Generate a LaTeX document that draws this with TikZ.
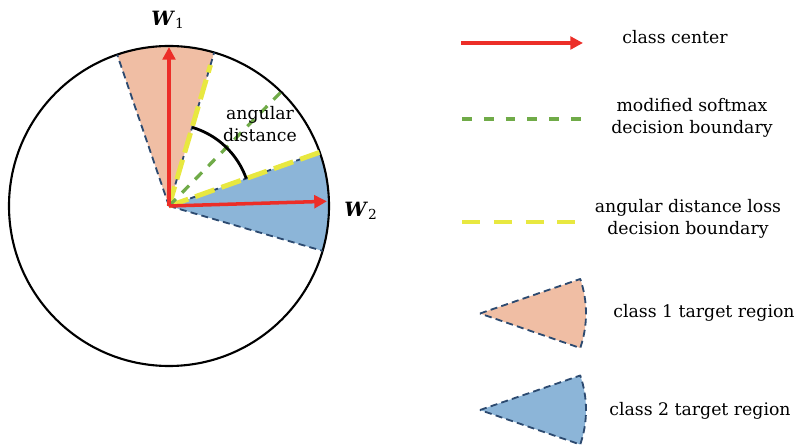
\documentclass[tikz,border=0pt]{standalone}
\usepackage{fontspec}
\setmainfont{DejaVu Serif}
\usetikzlibrary{arrows.meta,calc}
\definecolor{regorange}{RGB}{240,190,164}
\definecolor{regblue}{RGB}{140,181,216}
\definecolor{edgeblue}{RGB}{44,74,112}
\definecolor{ctrred}{RGB}{236,46,40}
\definecolor{softgreen}{RGB}{112,171,72}
\definecolor{lossyellow}{RGB}{232,232,64}
\begin{document}
\begin{tikzpicture}[x=0.025cm,y=0.025cm,line cap=butt,line join=round,
  centerarrow/.style={ctrred,line width=2.5pt,-{Triangle[length=9pt,width=9pt]}},
  softline/.style={softgreen,line width=2.3pt,dash pattern=on 7pt off 6.25pt},
  lossline/.style={lossyellow,line width=3.5pt,dash pattern=on 14.5pt off 5.3pt},
  regionedge/.style={edgeblue,line width=1.3pt,dash pattern=on 5pt off 3pt},
  lbl/.style={align=center,font=\fontsize{12.3}{15.5}\selectfont,inner sep=0pt}]
  \useasboundingbox (0,0) rectangle (800,447);
  \coordinate (C) at (169,241);
  \fill[regorange] (C) -- ++(73.6:160) arc[start angle=73.6,end angle=108.9,radius=160] -- cycle;
  \fill[regblue] (C) -- ++(-16.3:160) arc[start angle=-16.3,end angle=19.6,radius=160] -- cycle;
  \draw[line width=1.5pt] (C) circle[radius=160];
  \draw[regionedge] (C) -- ++(108.9:160);
  \draw[regionedge] (C) -- ++(73.6:160);
  \draw[regionedge] (C) -- ++(-16.3:160);
  \draw[regionedge] (C) -- ++(19.6:160);
  \draw[lossline] (C) -- ++(73.6:147);
  \draw[lossline] (C) -- ++(19.6:160);
  \draw[softline] (C) -- ++(45.5:159);
  \draw[line width=2pt] ($(C)+(73.6:82)$) arc[start angle=73.6,end angle=19.6,radius=82];
  \draw[centerarrow] (C) -- ++(90:159);
  \draw[centerarrow] (C) -- ++(1.7:158);
  \node[lbl,font=\fontsize{14}{16}\selectfont] (w1) at (168,427) {\textbf{\textit{W}}\textsubscript{1}};
  \node[lbl,font=\fontsize{14}{16}\selectfont] (w2) at (361,236) {\textbf{\textit{W}}\textsubscript{2}};
  \node[lbl] (adist) at (260,323) {angular\\distance};
  % legend
  \coordinate (a1) at (461,404);
  \coordinate (a2) at (583,404);
  \coordinate (g1) at (462,328);
  \coordinate (g2) at (583,328);
  \coordinate (y1) at (462,225);
  \coordinate (y2) at (578,225);
  \draw[centerarrow] (a1) -- (a2);
  \draw[softline,dash pattern=on 7pt off 8.5pt] (g1) -- (g2);
  \draw[lossline,dash pattern=on 12.8pt off 9.8pt] (y1) -- (y2);
  \coordinate (p1) at (480,133.5);
  \coordinate (p2) at (480,37);
  \filldraw[regionedge,fill=regorange] (p1) -- ++(19:106) arc[start angle=19,end angle=-19,radius=106] -- cycle;
  \filldraw[regionedge,fill=regblue] (p2) -- ++(19:106) arc[start angle=19,end angle=-19,radius=106] -- cycle;
  \node[lbl] (t1) at (675,410) {class center};
  \node[lbl] (t2) at (692,329) {modified softmax\\decision boundary};
  \node[lbl] (t3) at (688,228) {angular distance loss\\decision boundary};
  \node[lbl] (t4) at (704,134) {class 1 target region};
  \node[lbl] (t5) at (700,36) {class 2 target region};
\end{tikzpicture}
\end{document}
